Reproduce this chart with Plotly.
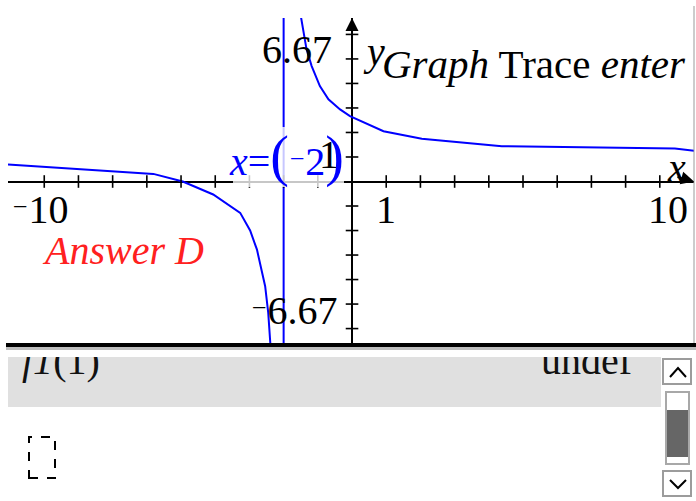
import plotly.graph_objects as go

# ---------------- data ----------------
left_x = [-10.06, -5.81, -4.95, -4.06, -3.27, -2.98, -2.78, -2.54, -2.45, -2.38, -2.36]
left_y = [0.69, 0.31, 0.0, -0.53, -1.28, -2.0, -2.78, -4.27, -5.36, -6.67, -7.2]
right_x = [-1.52, -1.49, -1.33, -1.18, -0.94, -0.69, -0.35, -0.06, 0.92, 2.04, 4.38, 9.44, 10.06]
right_y = [7.2, 6.69, 5.39, 4.71, 3.89, 3.35, 2.94, 2.67, 2.05, 1.74, 1.44, 1.35, 1.24]
asymptote_x = -2
x_window = [-10.06, 10.0]
y_window = [-6.67, 6.67]
x_ticks = [-9, -8, -7, -6, -5, -4, -3, -2, -1, 1, 2, 3, 4, 5, 6, 7, 8, 9]
y_ticks = [-6, -5, -4, -3, -2, -1, 1, 2, 3, 4, 5, 6]
NEG = "<span style='font-size:31px'>⁻</span>"
x_min_label = NEG + "10"
x_one_label = "1"
x_max_label = "10"
y_max_label = "6.67"
y_min_label = NEG + "6.67"
asym_label = ("<i>x</i>=<span style='font-size:56px'>(</span>" + NEG + "2"
              "<span style='font-size:56px'>)</span>")
answer_text = "Answer D"
title_text = "<i>Graph</i> Trace <i>enter</i>"
row_left_text = "<i>f1</i>(1)"
row_right_text = "undef"

W, H = 696, 501
SERIF = "Liberation Serif, Times New Roman, DejaVu Serif, serif"
BLUE = "#0000ff"


def px(x):
    return x / W


def py(y):
    return 1 - y / H


fig = go.Figure()

# curve branches
fig.add_trace(go.Scatter(x=left_x, y=left_y, mode="lines",
                         line=dict(color=BLUE, width=2), hoverinfo="skip"))
fig.add_trace(go.Scatter(x=right_x, y=right_y, mode="lines",
                         line=dict(color=BLUE, width=2), hoverinfo="skip"))
# vertical asymptote
fig.add_trace(go.Scatter(x=[asymptote_x, asymptote_x], y=[y_window[0] - 1, y_window[1] + 1],
                         mode="lines", line=dict(color=BLUE, width=2), hoverinfo="skip"))
# tick marks crossing the axes
fig.add_trace(go.Scatter(x=x_ticks, y=[0] * len(x_ticks), mode="markers",
                         marker=dict(symbol="line-ns", size=9, line=dict(color="black", width=1.6)),
                         hoverinfo="skip"))
fig.add_trace(go.Scatter(x=[0] * len(y_ticks), y=y_ticks, mode="markers",
                         marker=dict(symbol="line-ew", size=9, line=dict(color="black", width=1.6)),
                         hoverinfo="skip"))

# bottom panel row texts (clipped at the top like the reference)
fig.add_trace(go.Scatter(x=[22], y=[364], mode="text", text=[row_left_text],
                         textposition="middle right", xaxis="x2", yaxis="y2",
                         textfont=dict(family=SERIF, size=40, color="#111"),
                         cliponaxis=True, hoverinfo="skip"))
fig.add_trace(go.Scatter(x=[632], y=[364], mode="text", text=[row_right_text],
                         textposition="middle left", xaxis="x2", yaxis="y2",
                         textfont=dict(family=SERIF, size=40, color="#111"),
                         cliponaxis=True, hoverinfo="skip"))

shapes = []
# label background box over axis
shapes.append(dict(type="rect", xref="paper", yref="paper",
                   x0=px(233), x1=px(344), y0=py(187), y1=py(127),
                   fillcolor="rgba(255,255,255,0.78)", line=dict(width=0), layer="above"))
# right border of graph
shapes.append(dict(type="line", xref="paper", yref="paper",
                   x0=px(694), x1=px(694), y0=py(6), y1=py(345),
                   line=dict(color="#9a9a9a", width=1)))
# separators
shapes.append(dict(type="rect", xref="paper", yref="paper",
                   x0=px(6), x1=px(696), y0=py(350), y1=py(347),
                   fillcolor="#bdbdbd", line=dict(width=0)))
shapes.append(dict(type="rect", xref="paper", yref="paper",
                   x0=px(6), x1=px(696), y0=py(347), y1=py(343),
                   fillcolor="black", line=dict(width=0)))
# gray band
shapes.append(dict(type="rect", xref="paper", yref="paper",
                   x0=px(8), x1=px(661), y0=py(407), y1=py(357),
                   fillcolor="#e0e0e0", line=dict(width=0), layer="below"))
# dashed input box
shapes.append(dict(type="rect", xref="paper", yref="paper",
                   x0=px(29), x1=px(55), y0=py(478), y1=py(437),
                   line=dict(color="black", width=2, dash="dash"), fillcolor="rgba(0,0,0,0)"))
# scrollbar
shapes.append(dict(type="rect", xref="paper", yref="paper",
                   x0=px(663), x1=px(691), y0=py(384), y1=py(359),
                   line=dict(color="#9c9c9c", width=2), fillcolor="white"))
shapes.append(dict(type="path", xref="paper", yref="paper",
                   path=f"M {px(670)} {py(377)} L {px(678)} {py(368)} L {px(686)} {py(377)}",
                   line=dict(color="black", width=2)))
shapes.append(dict(type="rect", xref="paper", yref="paper",
                   x0=px(666), x1=px(689), y0=py(464), y1=py(392),
                   line=dict(color="#a8a8a8", width=2), fillcolor="white"))
shapes.append(dict(type="rect", xref="paper", yref="paper",
                   x0=px(667), x1=px(688), y0=py(457), y1=py(410),
                   line=dict(width=0), fillcolor="#666666"))
shapes.append(dict(type="rect", xref="paper", yref="paper",
                   x0=px(663), x1=px(691), y0=py(496), y1=py(471),
                   line=dict(color="#9c9c9c", width=2), fillcolor="white"))
shapes.append(dict(type="path", xref="paper", yref="paper",
                   path=f"M {px(670)} {py(480)} L {px(678)} {py(488)} L {px(686)} {py(480)}",
                   line=dict(color="black", width=2)))

ann = []
f40 = dict(family=SERIF, size=40, color="black")
# axis arrows
ann.append(dict(x=0, y=y_window[1], xref="x", yref="y", text="", showarrow=True,
                ax=0, ay=22, arrowhead=2, arrowsize=1.3, arrowwidth=2, arrowcolor="black", standoff=0))
ann.append(dict(x=x_window[1], y=0, xref="x", yref="y", text="", showarrow=True,
                ax=-18, ay=-5, arrowhead=2, arrowsize=1.3, arrowwidth=2, arrowcolor="black", standoff=0))
# tick labels
ann.append(dict(x=-10, y=0, xref="x", yref="y", text=x_min_label, showarrow=False,
                xanchor="left", yanchor="middle", xshift=0, yshift=-28, font=f40))
ann.append(dict(x=1, y=0, xref="x", yref="y", text=x_one_label, showarrow=False,
                xanchor="center", yanchor="middle", yshift=-28, font=f40))
ann.append(dict(x=10, y=0, xref="x", yref="y", text=x_max_label, showarrow=False,
                xanchor="right", yanchor="middle", xshift=-4, yshift=-28, font=f40))
ann.append(dict(x=0, y=y_window[1], xref="x", yref="y", text=y_max_label, showarrow=False,
                xanchor="right", yanchor="middle", xshift=-18, yshift=-32, font=f40))
ann.append(dict(x=0, y=y_window[0], xref="x", yref="y", text=y_min_label, showarrow=False,
                xanchor="right", yanchor="middle", xshift=-13, yshift=35, font=f40))
# axis names
ann.append(dict(x=0, y=y_window[1], xref="x", yref="y", text="<i>y</i>", showarrow=False,
                xanchor="center", yanchor="middle", xshift=22, yshift=-34, font=f40))
ann.append(dict(x=x_window[1], y=0, xref="x", yref="y", text="<i>x</i>", showarrow=False,
                xanchor="center", yanchor="middle", xshift=-18, yshift=14, font=f40))
# title-ish text
ann.append(dict(x=px(380), y=py(64), xref="paper", yref="paper", text=title_text,
                showarrow=False, xanchor="left", yanchor="middle",
                font=dict(family=SERIF, size=41, color="black")))
# answer text
ann.append(dict(x=px(40), y=py(250), xref="paper", yref="paper", text="<i>" + answer_text + "</i>",
                showarrow=False, xanchor="left", yanchor="middle",
                font=dict(family=SERIF, size=40, color="#ff2020")))
# black "1" behind the asymptote label
ann.append(dict(x=px(329), y=py(155), xref="paper", yref="paper", text="1",
                showarrow=False, xanchor="center", yanchor="middle", font=f40))
# asymptote label
ann.append(dict(x=px(286), y=py(156), xref="paper", yref="paper", text=asym_label,
                showarrow=False, xanchor="center", yanchor="middle",
                font=dict(family=SERIF, size=40, color=BLUE)))

fig.update_layout(
    width=W, height=H,
    margin=dict(l=0, r=0, t=0, b=0),
    paper_bgcolor="white", plot_bgcolor="rgba(0,0,0,0)",
    showlegend=False,
    xaxis=dict(range=x_window, domain=[px(8), px(694)], showgrid=False, showticklabels=False,
               ticks="", zeroline=True, zerolinecolor="black", zerolinewidth=2, fixedrange=True),
    yaxis=dict(range=y_window, domain=[py(345), py(18)], showgrid=False, showticklabels=False,
               ticks="", zeroline=True, zerolinecolor="black", zerolinewidth=2, fixedrange=True),
    xaxis2=dict(range=[0, W], domain=[0, 1], visible=False, anchor="y2", fixedrange=True),
    yaxis2=dict(range=[420, 357], domain=[py(420), py(357)], visible=False, anchor="x2", fixedrange=True),
    shapes=shapes,
    annotations=ann,
)

fig.write_html(
    "out.html",
    config={"displayModeBar": False, "staticPlot": True},
    post_script="document.body.style.margin='0';document.body.style.padding='0';"
                "document.body.style.overflow='hidden';",
)
